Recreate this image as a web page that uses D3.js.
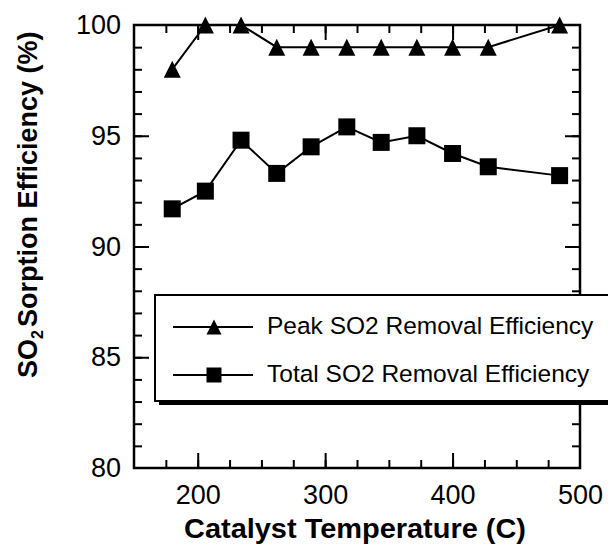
<!DOCTYPE html>
<html>
<head>
<meta charset="utf-8">
<script src="https://cdn.jsdelivr.net/npm/d3@7"></script>
<style>
  html, body { margin: 0; padding: 0; background: #fff; }
  svg { display: block; font-family: "Liberation Sans", Arial, sans-serif; }
</style>
</head>
<body>
<svg id="chart" width="608" height="544"></svg>
<script>
// Catalyst temperatures (C)
const temperatures = [180, 206, 234, 262, 289, 317, 344, 372, 400, 428, 484];
// Peak SO2 removal efficiency (%)
const peakEfficiency = [98, 100, 100, 99, 99, 99, 99, 99, 99, 99, 100];
// Total SO2 removal efficiency (%)
const totalEfficiency = [91.7, 92.5, 94.8, 93.3, 94.5, 95.4, 94.7, 95.0, 94.2, 93.6, 93.2];

const seriesNames = ["Peak SO2 Removal Efficiency", "Total SO2 Removal Efficiency"];
const xTickLabels = [200, 300, 400, 500];
const yTickLabels = [80, 85, 90, 95, 100];
const xMinorTicks = [175, 200, 225, 250, 275, 300, 325, 350, 375, 400, 425, 450, 475];
const yMinorTicks = d3.range(81, 100);

const svg = d3.select("#chart");

const x = d3.scaleLinear().domain([150, 500]).range([134, 580]);
const y = d3.scaleLinear().domain([80, 100]).range([468, 25]);

const [x0, x1] = x.range();
const [y0, y1] = y.range();

// Triangle centred on its bounding box
const boxTriangle = {
  draw(context, size) {
    const s = Math.sqrt(size);
    context.moveTo(0, -s / 2);
    context.lineTo(s / 2, s / 2);
    context.lineTo(-s / 2, s / 2);
    context.closePath();
  }
};

const tickFont = "27px";

function styleAxis(g) {
  g.select(".domain").remove();
  g.selectAll(".tick line").attr("stroke", "#000").attr("stroke-width", 2);
  g.selectAll(".tick text").attr("fill", "#000").style("font-size", tickFont)
    .style("font-family", "'Liberation Sans', Arial, sans-serif");
}

// Bottom axis with labels, ticks pointing inward
svg.append("g").attr("transform", `translate(0,${y0})`)
  .call(d3.axisBottom(x).tickValues(xMinorTicks).tickSize(-8).tickFormat(""))
  .call(styleAxis);
svg.append("g").attr("transform", `translate(0,${y0})`)
  .call(d3.axisBottom(x).tickValues(xTickLabels).tickSize(-15).tickPadding(17).tickFormat(d3.format("d")))
  .call(styleAxis)
  .call(g => g.selectAll(".tick line").filter(d => d === 500).remove());

// Top axis, ticks only
svg.append("g").attr("transform", `translate(0,${y1})`)
  .call(d3.axisTop(x).tickValues(xMinorTicks).tickSize(-8).tickFormat(""))
  .call(styleAxis);
svg.append("g").attr("transform", `translate(0,${y1})`)
  .call(d3.axisTop(x).tickValues([200, 300, 400]).tickSize(-15).tickFormat(""))
  .call(styleAxis);

// Left axis with labels
svg.append("g").attr("transform", `translate(${x0},0)`)
  .call(d3.axisLeft(y).tickValues(yMinorTicks).tickSize(-8).tickFormat(""))
  .call(styleAxis);
svg.append("g").attr("transform", `translate(${x0},0)`)
  .call(d3.axisLeft(y).tickValues(yTickLabels).tickSize(-15).tickPadding(13).tickFormat(d3.format("d")))
  .call(styleAxis)
  .call(g => g.selectAll(".tick line").filter(d => d === 80 || d === 100).remove());

// Right axis, ticks only
svg.append("g").attr("transform", `translate(${x1},0)`)
  .call(d3.axisRight(y).tickValues(yMinorTicks).tickSize(-8).tickFormat(""))
  .call(styleAxis);
svg.append("g").attr("transform", `translate(${x1},0)`)
  .call(d3.axisRight(y).tickValues([85, 90, 95]).tickSize(-15).tickFormat(""))
  .call(styleAxis);

// Plot frame
svg.append("rect")
  .attr("x", x0).attr("y", y1)
  .attr("width", x1 - x0).attr("height", y0 - y1)
  .attr("fill", "none").attr("stroke", "#000").attr("stroke-width", 2.5);

// Series
const series = [
  { name: seriesNames[0], values: peakEfficiency, symbol: boxTriangle, size: 17 * 17 },
  { name: seriesNames[1], values: totalEfficiency, symbol: d3.symbolSquare, size: 17 * 17 }
];

const line = d3.line().x(d => x(d[0])).y(d => y(d[1]));

series.forEach(s => {
  const pts = temperatures.map((t, i) => [t, s.values[i]]);
  svg.append("path").datum(pts)
    .attr("d", line)
    .attr("fill", "none").attr("stroke", "#000").attr("stroke-width", 2);
  svg.append("g").selectAll("path").data(pts).join("path")
    .attr("transform", d => `translate(${x(d[0])},${y(d[1])})`)
    .attr("d", d3.symbol(s.symbol, s.size))
    .attr("fill", "#000");
});

// Legend box with drop shadow
const legend = svg.append("g");
legend.append("rect")
  .attr("x", 159).attr("y", 299).attr("width", 480).attr("height", 106)
  .attr("fill", "#000");
legend.append("rect")
  .attr("x", 155).attr("y", 295).attr("width", 480).attr("height", 106)
  .attr("fill", "#fff").attr("stroke", "#000").attr("stroke-width", 2);

const rowY = [327, 375];
series.forEach((s, i) => {
  const ly = rowY[i];
  legend.append("line")
    .attr("x1", 173).attr("x2", 253).attr("y1", ly).attr("y2", ly)
    .attr("stroke", "#000").attr("stroke-width", 2);
  legend.append("path")
    .attr("transform", `translate(214,${ly})`)
    .attr("d", d3.symbol(s.symbol, 15 * 15))
    .attr("fill", "#000");
  legend.append("text")
    .attr("x", 267).attr("y", ly + 7)
    .style("font-size", "24.5px")
    .attr("fill", "#000")
    .text(s.name);
});

// Axis titles
svg.append("text")
  .attr("x", (x0 + x1) / 2 - 2).attr("y", 538)
  .attr("text-anchor", "middle")
  .attr("textLength", 342).attr("lengthAdjust", "spacingAndGlyphs")
  .style("font-size", "27px").style("font-weight", "bold")
  .text("Catalyst Temperature (C)");

const yTitle = svg.append("text")
  .attr("transform", "translate(37,378) rotate(-90)")
  .style("font-size", "27px").style("font-weight", "bold");
yTitle.append("tspan").text("SO");
yTitle.append("tspan").attr("dy", 6).style("font-size", "16px").text("2");
yTitle.append("tspan").attr("dy", -6).attr("dx", 3).text("Sorption Efficiency (%)");
</script>
</body>
</html>
